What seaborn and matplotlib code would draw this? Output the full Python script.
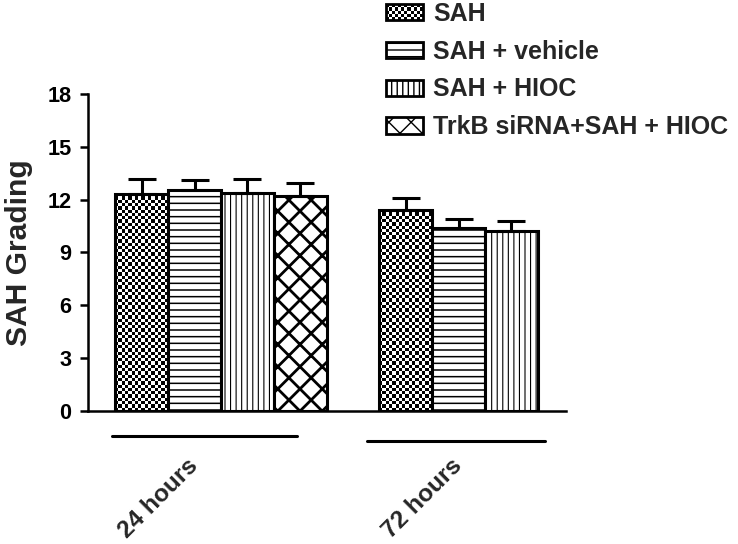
import numpy as np
import pandas as pd
import matplotlib
matplotlib.use("Agg")
import matplotlib.pyplot as plt
import seaborn as sns
from matplotlib.patches import Patch, Rectangle
from matplotlib.legend_handler import HandlerPatch

# ---- data ----
timepoints = ["24 hours", "72 hours"]
groups = ["SAH", "SAH + vehicle", "SAH + HIOC", "TrkB siRNA+SAH + HIOC"]
means_24h = [12.35, 12.56, 12.37, 12.23]
errs_24h = [0.85, 0.55, 0.80, 0.70]
means_72h = [11.42, 10.38, 10.23]
errs_72h = [0.68, 0.52, 0.55]
yticks = [0, 3, 6, 9, 12, 15, 18]

rows = []
for g, m, e in zip(groups, means_24h, errs_24h):
    rows.append({"time": timepoints[0], "group": g, "mean": m, "err": e})
for g, m, e in zip(groups[:3], means_72h, errs_72h):
    rows.append({"time": timepoints[1], "group": g, "mean": m, "err": e})
df = pd.DataFrame(rows)

hatches = {"SAH": None, "SAH + vehicle": "-----", "SAH + HIOC": "||||||",
           "TrkB siRNA+SAH + HIOC": "xxx"}
hatch_lw = {"SAH + vehicle": 0.55, "SAH + HIOC": 0.4, "TrkB siRNA+SAH + HIOC": 1.0}

sns.set_style("white")
plt.rcParams["font.family"] = ["Liberation Sans", "DejaVu Sans"]
plt.rcParams["hatch.linewidth"] = 0.5

DPI = 200
fig = plt.figure(figsize=(738 / DPI, 544 / DPI), dpi=DPI)
ax = fig.add_axes([88 / 738, 1 - 411 / 544, (566 - 88) / 738, (411 - 94) / 544])

sns.barplot(data=df, x="time", y="mean", hue="group", order=timepoints,
            hue_order=groups, errorbar=None, ax=ax,
            palette=["white"] * 4, edgecolor="black", linewidth=1.1,
            legend=False, zorder=2)

ax.set_xlim(-0.504, 1.307)
ax.set_ylim(0, 18)

patches = [p for p in ax.patches if p.get_height() > 0]
patches.sort(key=lambda p: p.get_x())
pos_rows = []
for t in timepoints:
    for g in groups:
        r = df[(df.time == t) & (df.group == g)]
        if len(r):
            pos_rows.append(r.iloc[0])

def checker_img(nx, ny):
    yy, xx = np.mgrid[0:ny, 0:nx]
    return ((xx + yy) % 2).astype(float)

for p, r in zip(patches, pos_rows):
    g = r["group"]
    x0 = p.get_x(); w = p.get_width(); h = p.get_height()
    if g == "SAH":
        p.set_facecolor("none")
        nx = max(1, int(round(w * 264 / 3.3)))
        ny = max(1, int(round(h * 17.61 / 3.3)))
        im = ax.imshow(checker_img(nx, ny), cmap="gray", interpolation="nearest",
                       extent=[x0, x0 + w, 0, h], aspect="auto", zorder=1,
                       origin="lower")
        im.set_clip_path(p)
    else:
        p.set_hatch(hatches[g])
        if hasattr(p, "set_hatch_linewidth"):
            p.set_hatch_linewidth(hatch_lw[g])
    ax.errorbar(x0 + w / 2, h, yerr=[[0], [r["err"]]], fmt="none",
                ecolor="black", elinewidth=1.1, capsize=5.2, capthick=1.1,
                zorder=3)

ax.set_xlim(-0.504, 1.307)
ax.set_ylim(0, 18)
ax.set_aspect("auto")

# axes styling
for s in ["top", "right"]:
    ax.spines[s].set_visible(False)
for s in ["left", "bottom"]:
    ax.spines[s].set_linewidth(0.9)
    ax.spines[s].set_color("black")
ax.set_yticks(yticks)
ax.set_yticklabels([str(v) for v in yticks], fontsize=7.8, fontweight="bold")
ax.tick_params(axis="y", direction="out", length=2.9, width=0.9, pad=3,
               left=True, colors="black")
ax.set_xticks([])
ax.set_xlabel("")
ax.set_ylabel("SAH Grading", fontsize=10.8, fontweight="bold", labelpad=5)

# group underlines and labels
ax.plot([-0.413, 0.288], [-1.42, -1.42], color="black", lw=1.1, clip_on=False)
ax.plot([0.553, 1.227], [-1.70, -1.70], color="black", lw=1.1, clip_on=False)
for xt, t in zip([-0.085, 0.918], timepoints):
    ax.text(xt, -3.2, t, rotation=45, ha="right", va="baseline",
            rotation_mode="anchor", fontsize=8.8, fontweight="bold",
            clip_on=False)

# legend
class CheckerHandler(HandlerPatch):
    def create_artists(self, legend, orig_handle, xdescent, ydescent, width,
                       height, fontsize, trans):
        arts = []
        n = 3.0 * 72 / DPI
        nx = int(round(width / n)); ny = int(round(height / n))
        cw = width / nx; ch = height / ny
        for i in range(nx):
            for j in range(ny):
                if (i + j) % 2 == 0:
                    arts.append(Rectangle((-xdescent + i * cw, -ydescent + j * ch),
                                          cw, ch, facecolor="black",
                                          edgecolor="none", transform=trans))
        arts.append(Rectangle((-xdescent, -ydescent), width, height,
                              facecolor="none", edgecolor="black", lw=1.0,
                              transform=trans))
        return arts

handles = []
hmap = {}
for g in groups:
    if g == "SAH":
        h = Patch(facecolor="white", edgecolor="black", label=g)
        hmap[h] = CheckerHandler()
    else:
        h = Patch(facecolor="white", edgecolor="black", hatch=hatches[g],
                  lw=1.0, label=g)
    handles.append(h)

leg = fig.legend(handles=handles, loc="upper left",
                 bbox_to_anchor=(376 / 738, 1 + 8 / 544), frameon=False,
                 prop={"size": 9.0, "weight": "bold"}, handlelength=1.47,
                 handleheight=0.62, handletextpad=0.42, labelspacing=0.55,
                 borderaxespad=0, handler_map=hmap)

fig.savefig("out.png", dpi=DPI, facecolor="white")
